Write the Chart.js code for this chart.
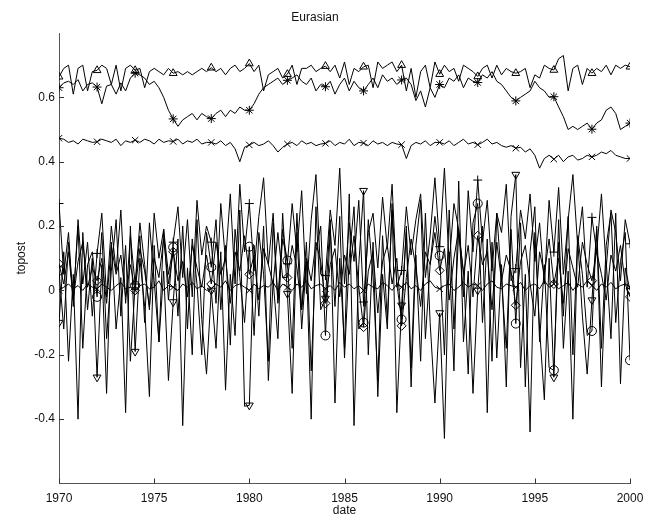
<!DOCTYPE html>
<html>
<head>
<meta charset="utf-8">
<script src="https://cdn.jsdelivr.net/npm/chart.js@4/dist/chart.umd.min.js"></script>
<style>
  html, body { margin: 0; padding: 0; background: #fff; }
  #wrap { width: 645px; height: 518px; }
</style>
</head>
<body>
<div id="wrap"><canvas id="eurasianChart" width="645" height="518"></canvas></div>
<script>
// quarterly samples, 1970.00 .. 2000.00 (121 values per series), marker every 2 years
const startYear = 1970;
const stepsPerYear = 4;
const xTicks = [1970, 1975, 1980, 1985, 1990, 1995, 2000];
const yTicks = [-0.4, -0.2, 0, 0.2, 0.4, 0.6];
const yTickLabels = ['-0.4', '-0.2', '0', '0.2', '0.4', '0.6'];

const seriesTriUp = [
	0.664, 0.69, 0.70, 0.61, 0.69, 0.70, 0.62, 0.68,
	0.684, 0.70, 0.69, 0.64, 0.70, 0.62, 0.69, 0.70,
	0.684, 0.69, 0.63, 0.68, 0.69, 0.68, 0.67, 0.69,
	0.675, 0.68, 0.67, 0.68, 0.67, 0.68, 0.69, 0.68,
	0.692, 0.68, 0.69, 0.67, 0.69, 0.70, 0.68, 0.69,
	0.705, 0.68, 0.70, 0.62, 0.67, 0.68, 0.69, 0.66,
	0.672, 0.70, 0.64, 0.69, 0.69, 0.70, 0.68, 0.69,
	0.697, 0.68, 0.70, 0.66, 0.71, 0.64, 0.69, 0.68,
	0.695, 0.70, 0.63, 0.71, 0.69, 0.70, 0.71, 0.68,
	0.70, 0.62, 0.69, 0.60, 0.68, 0.70, 0.63, 0.71,
	0.672, 0.70, 0.68, 0.69, 0.65, 0.70, 0.69, 0.68,
	0.665, 0.69, 0.70, 0.66, 0.70, 0.67, 0.69, 0.68,
	0.675, 0.68, 0.69, 0.63, 0.67, 0.66, 0.70, 0.69,
	0.685, 0.72, 0.73, 0.62, 0.69, 0.70, 0.64, 0.69,
	0.675, 0.69, 0.68, 0.70, 0.67, 0.70, 0.69, 0.70,
	0.695
];
const seriesStar = [
	0.63, 0.645, 0.65, 0.64, 0.655, 0.62, 0.64, 0.645,
	0.632, 0.58, 0.635, 0.64, 0.61, 0.645, 0.62, 0.66,
	0.675, 0.67, 0.66, 0.64, 0.65, 0.63, 0.60, 0.56,
	0.533, 0.51, 0.53, 0.54, 0.55, 0.53, 0.55, 0.54,
	0.534, 0.55, 0.56, 0.54, 0.56, 0.55, 0.57, 0.56,
	0.56, 0.58, 0.61, 0.63, 0.64, 0.65, 0.66, 0.64,
	0.653, 0.66, 0.67, 0.65, 0.64, 0.66, 0.62, 0.64,
	0.633, 0.65, 0.61, 0.64, 0.66, 0.62, 0.65, 0.63,
	0.62, 0.64, 0.66, 0.63, 0.67, 0.65, 0.66, 0.64,
	0.654, 0.66, 0.64, 0.59, 0.62, 0.57, 0.63, 0.60,
	0.64, 0.63, 0.66, 0.65, 0.67, 0.63, 0.66, 0.65,
	0.646, 0.67, 0.66, 0.68, 0.65, 0.64, 0.62, 0.60,
	0.589, 0.60, 0.61, 0.62, 0.65, 0.63, 0.62, 0.60,
	0.602, 0.57, 0.54, 0.50, 0.51, 0.50, 0.51, 0.52,
	0.501, 0.52, 0.53, 0.56, 0.57, 0.55, 0.50, 0.51,
	0.52
];
const seriesCross = [
	0.473, 0.47, 0.46, 0.465, 0.455, 0.47, 0.465, 0.46,
	0.462, 0.47, 0.465, 0.46, 0.47, 0.45, 0.465, 0.46,
	0.467, 0.46, 0.47, 0.465, 0.455, 0.47, 0.46, 0.465,
	0.463, 0.47, 0.455, 0.465, 0.46, 0.47, 0.455, 0.46,
	0.46, 0.455, 0.465, 0.45, 0.46, 0.44, 0.40, 0.445,
	0.452, 0.46, 0.45, 0.455, 0.465, 0.45, 0.43, 0.445,
	0.455, 0.46, 0.45, 0.465, 0.455, 0.46, 0.45, 0.455,
	0.457, 0.465, 0.45, 0.46, 0.455, 0.47, 0.45, 0.46,
	0.458, 0.45, 0.465, 0.455, 0.46, 0.45, 0.46, 0.455,
	0.453, 0.41, 0.45, 0.46, 0.455, 0.465, 0.45, 0.46,
	0.46, 0.455, 0.465, 0.45, 0.46, 0.47, 0.455, 0.46,
	0.453, 0.46, 0.47, 0.455, 0.46, 0.45, 0.445, 0.45,
	0.442, 0.445, 0.43, 0.44, 0.42, 0.38, 0.41, 0.42,
	0.408, 0.42, 0.40, 0.415, 0.42, 0.405, 0.41, 0.42,
	0.415, 0.42, 0.43, 0.425, 0.435, 0.42, 0.415, 0.41,
	0.41
];
const seriesPlus = [
	0.27, 0.05, 0.18, -0.05, 0.22, 0.02, 0.15, -0.08,
	0.115, 0.24, -0.02, 0.20, 0.06, 0.25, -0.04, 0.17,
	0.02, 0.21, 0.08, -0.06, 0.24, 0.10, 0.19, -0.03,
	0.15, 0.26, 0.04, 0.22, -0.02, 0.28, 0.11, 0.20,
	0.15, -0.04, 0.27, 0.09, 0.30, 0.02, 0.33, 0.12,
	0.27, 0.06, 0.23, 0.35, 0.08, 0.24, -0.03, 0.19,
	0.083, 0.27, 0.12, 0.31, -0.01, 0.22, 0.36, 0.05,
	0.046, 0.25, 0.14, 0.38, 0.02, 0.21, 0.09, 0.28,
	-0.036, 0.18, 0.24, 0.07, 0.29, 0.13, 0.33, 0.01,
	0.062, 0.26, 0.11, 0.22, 0.30, 0.04, 0.17, 0.35,
	0.136, 0.38, 0.08, 0.27, 0.19, -0.02, 0.31, 0.12,
	0.343, 0.15, 0.28, 0.06, 0.24, 0.18, 0.33, 0.03,
	0.068, 0.25, 0.16, 0.30, 0.09, 0.21, 0.02, 0.28,
	0.119, 0.32, 0.05, 0.22, 0.36, 0.14, 0.26, 0.01,
	0.227, 0.12, 0.30, 0.07, 0.25, 0.18, 0.03, 0.22,
	0.145
];
const seriesCircle = [
	0.062, -0.12, 0.15, -0.03, 0.20, -0.18, 0.08, 0.12,
	-0.02, 0.18, -0.15, 0.06, 0.22, -0.08, 0.14, -0.22,
	0.015, 0.17, -0.10, 0.21, 0.03, -0.16, 0.19, 0.05,
	0.134, -0.08, 0.20, -0.12, 0.16, 0.02, -0.20, 0.18,
	0.072, 0.22, -0.06, 0.14, -0.17, 0.19, 0.04, -0.10,
	0.136, -0.14, 0.18, 0.05, -0.22, 0.21, -0.04, 0.16,
	0.093, -0.18, 0.24, -0.06, 0.15, -0.25, 0.12, 0.20,
	-0.14, 0.19, -0.05, 0.23, -0.21, 0.10, 0.26, -0.12,
	-0.10, 0.22, 0.04, -0.28, 0.17, -0.09, 0.25, 0.02,
	-0.09, 0.20, -0.24, 0.14, 0.28, -0.15, 0.08, 0.23,
	0.108, -0.20, 0.25, -0.12, 0.18, 0.06, -0.26, 0.21,
	0.27, -0.10, 0.16, -0.22, 0.24, 0.03, -0.18, 0.19,
	-0.103, 0.21, -0.30, 0.12, 0.26, -0.16, 0.08, -0.24,
	-0.248, 0.15, -0.08, 0.23, -0.20, 0.17, 0.05, -0.14,
	-0.126, 0.20, -0.18, 0.14, 0.24, -0.10, 0.09, 0.18,
	-0.217
];
const seriesDiamond = [
	0.083, 0.02, 0.12, -0.03, 0.09, 0.15, 0.01, 0.07,
	0.03, 0.10, -0.04, 0.14, 0.05, 0.11, -0.02, 0.08,
	0.0, 0.13, 0.06, -0.05, 0.10, 0.04, 0.16, 0.02,
	0.12, 0.03, 0.09, -0.02, 0.14, 0.07, 0.01, 0.11,
	0.02, 0.15, 0.05, 0.10, -0.04, 0.12, 0.06, 0.17,
	0.05, 0.11, -0.03, 0.13, 0.08, 0.02, 0.18, 0.04,
	0.04, 0.14, 0.07, -0.06, 0.10, 0.03, 0.15, 0.09,
	-0.04, 0.08, 0.13, -0.02, 0.11, 0.05, 0.17, 0.01,
	-0.114, 0.06, 0.12, -0.07, 0.09, 0.14, 0.02, 0.10,
	-0.11, 0.04, 0.16, 0.07, -0.05, 0.12, 0.08, 0.18,
	0.062, 0.13, -0.03, 0.10, 0.19, 0.05, 0.14, -0.02,
	0.17, 0.08, 0.12, -0.06, 0.15, 0.03, 0.11, 0.06,
	-0.046, 0.09, 0.14, 0.02, -0.08, 0.12, 0.05, 0.16,
	0.02, 0.10, -0.04, 0.13, 0.07, 0.01, 0.15, 0.08,
	0.03, 0.12, 0.05, -0.03, 0.11, 0.06, 0.14, 0.02,
	-0.02
];
const seriesTriDown = [
	-0.10, 0.12, -0.22, 0.05, -0.40, 0.18, -0.06, 0.10,
	-0.27, 0.08, -0.32, 0.15, -0.12, 0.04, -0.38, 0.20,
	-0.19, 0.10, -0.05, -0.33, 0.14, -0.16, 0.06, -0.28,
	-0.036, 0.16, -0.42, 0.07, -0.20, 0.22, -0.09, -0.26,
	0.0, -0.18, 0.12, -0.31, 0.05, -0.14, 0.25, -0.36,
	-0.357, 0.14, -0.08, 0.20, -0.28, 0.03, -0.15, 0.24,
	-0.01, -0.32, 0.18, -0.12, 0.09, -0.40, 0.26, -0.06,
	-0.025, 0.22, -0.35, 0.10, -0.18, 0.30, -0.42, 0.08,
	0.31, -0.20, 0.15, -0.33, 0.05, -0.12, 0.27, -0.38,
	-0.046, 0.18, -0.30, 0.11, -0.22, 0.24, -0.10, -0.35,
	-0.07, -0.46, 0.12, -0.25, 0.34, -0.16, 0.06, -0.32,
	0.0, 0.20, -0.38, 0.15, -0.21, 0.08, -0.30, 0.23,
	0.36, -0.24, 0.05, -0.44, 0.18, -0.12, -0.34, 0.10,
	-0.27, 0.22, -0.18, 0.06, -0.40, 0.16, -0.08, -0.26,
	-0.03, 0.19, -0.30, 0.09, -0.15, 0.24, -0.29, 0.07,
	0.0
];
const seriesFlat = [
	0.0, 0.01, 0.02, 0.005, 0.015, 0.0, 0.02, 0.01,
	0.005, 0.02, 0.01, 0.0, 0.015, 0.025, 0.005, 0.01,
	0.0, 0.015, 0.02, 0.005, 0.01, 0.03, 0.0, 0.015,
	0.01, 0.0, 0.02, 0.01, 0.025, 0.005, 0.015, 0.0,
	0.005, 0.02, 0.01, 0.03, 0.0, 0.015, 0.02, 0.01,
	0.0, 0.02, 0.005, 0.015, 0.01, 0.025, 0.0, 0.02,
	0.01, 0.0, 0.02, 0.01, 0.03, 0.005, 0.015, 0.02,
	0.005, 0.015, 0.0, 0.025, 0.01, 0.02, 0.005, 0.015,
	0.0, 0.02, 0.01, 0.005, 0.025, 0.015, 0.0, 0.02,
	0.01, 0.025, 0.005, 0.015, 0.0, 0.02, 0.03, 0.01,
	0.005, 0.015, 0.02, 0.0, 0.01, 0.025, 0.01, 0.02,
	0.015, 0.0, 0.02, 0.03, 0.01, 0.005, 0.02, 0.015,
	0.01, 0.025, 0.0, 0.015, 0.02, 0.005, 0.03, 0.01,
	0.02, 0.005, 0.015, 0.025, 0.0, 0.02, 0.01, 0.03,
	0.015, 0.0, 0.02, 0.01, 0.025, 0.005, 0.015, 0.02,
	0.01
];

const toPoints = arr => arr.map((v, i) => ({ x: startYear + i / stepsPerYear, y: v }));
const markerEvery = 8;

function makeSet(values, style, rotation) {
	return {
		data: toPoints(values),
		borderColor: '#000',
		borderWidth: 1,
		backgroundColor: 'rgba(0,0,0,0)',
		pointStyle: style,
		pointRotation: rotation || 0,
		pointRadius: c => (c.dataIndex % markerEvery === 0 ? 4.5 : 0),
		pointBorderColor: '#000',
		pointBorderWidth: 1,
		pointBackgroundColor: 'rgba(0,0,0,0)',
		tension: 0,
		fill: false
	};
}

// MATLAB style ticks pointing into the plot
const innerTicks = {
	id: 'innerTicks',
	afterDraw(chart) {
		const { ctx, chartArea: a, scales: { x, y } } = chart;
		ctx.save();
		ctx.strokeStyle = '#333';
		ctx.lineWidth = 1;
		ctx.beginPath();
		xTicks.forEach(t => {
			const px = Math.round(x.getPixelForValue(t)) + 0.5;
			ctx.moveTo(px, a.bottom);
			ctx.lineTo(px, a.bottom - 5);
		});
		yTicks.forEach(t => {
			const py = Math.round(y.getPixelForValue(t)) + 0.5;
			ctx.moveTo(a.left, py);
			ctx.lineTo(a.left + 5, py);
		});
		ctx.stroke();
		ctx.restore();
	}
};

const font = { family: '"Liberation Sans", Arial, sans-serif', size: 12, weight: 'normal' };

new Chart(document.getElementById('eurasianChart').getContext('2d'), {
	type: 'line',
	data: {
		datasets: [
			makeSet(seriesTriUp, 'triangle'),
			makeSet(seriesStar, 'star'),
			makeSet(seriesCross, 'crossRot'),
			makeSet(seriesPlus, 'cross'),
			makeSet(seriesCircle, 'circle'),
			makeSet(seriesDiamond, 'rectRot'),
			makeSet(seriesTriDown, 'triangle', 180),
			makeSet(seriesFlat, 'crossRot')
		]
	},
	plugins: [innerTicks],
	options: {
		responsive: false,
		animation: false,
		layout: { padding: { left: 0, right: 15, top: 0, bottom: 0 } },
		plugins: {
			legend: { display: false },
			tooltip: { enabled: false },
			title: {
				display: true,
				text: 'Eurasian',
				color: '#111',
				font: font,
				padding: { top: 10, bottom: 8.6 }
			}
		},
		scales: {
			x: {
				type: 'linear',
				min: 1970,
				max: 2000,
				afterFit: s => {
					s.height = 34.5;
					s.paddingLeft = 0;
					s.paddingRight = 0;
				},
				afterBuildTicks: s => { s.ticks = xTicks.map(v => ({ value: v })); },
				grid: { display: false, drawTicks: false },
				border: { display: true, color: '#555', width: 1 },
				ticks: {
					color: '#111',
					font: font,
					padding: 8,
					maxRotation: 0,
					callback: v => String(v)
				},
				title: {
					display: true,
					text: 'date',
					color: '#111',
					font: font,
					padding: { top: 0, bottom: 0 }
				}
			},
			y: {
				min: -0.6,
				max: 0.8,
				afterFit: s => { s.width = 59; },
				afterBuildTicks: s => { s.ticks = yTicks.map(v => ({ value: v })); },
				grid: { display: false, drawTicks: false },
				border: { display: true, color: '#555', width: 1 },
				ticks: {
					color: '#111',
					font: font,
					padding: 4,
					callback: (v, i) => yTickLabels[i]
				},
				title: {
					display: true,
					text: 'topost',
					color: '#111',
					font: font,
					padding: { top: 14, bottom: 0 }
				}
			}
		}
	}
});
</script>
</body>
</html>
